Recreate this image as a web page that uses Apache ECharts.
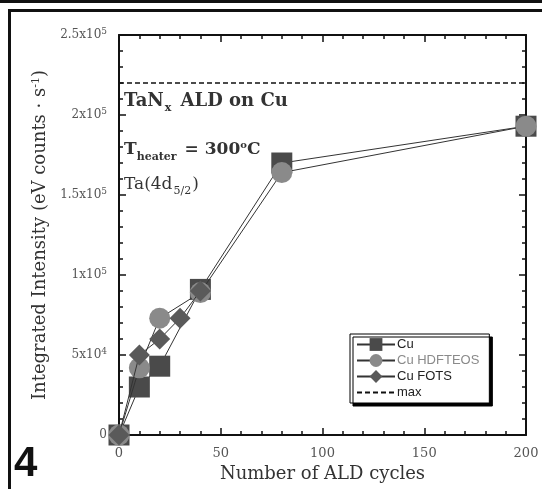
<!DOCTYPE html>
<html>
<head>
<meta charset="utf-8">
<script src="https://cdn.jsdelivr.net/npm/echarts@6/dist/echarts.min.js"></script>
<style>
html, body { margin: 0; padding: 0; background: #fff; }
#chart { width: 542px; height: 489px; }
</style>
</head>
<body>
<div id="chart"></div>
<script>
// ALD cycles vs Ta(4d5/2) integrated intensity
const cuCycles = [0, 10, 20, 40, 80, 200]
const cuValues = [0, 30000, 43000, 91000, 170000, 193000]

const hdfCycles = [0, 10, 20, 40, 80, 200]
const hdfValues = [0, 42000, 73000, 89000, 164000, 193000]

const fotsCycles = [0, 10, 20, 30, 40]
const fotsValues = [0, 50000, 60000, 73000, 90000]

const maxCycles = [0, 200]
const maxValue = 220000

const yTickLabels = {
    0: '0',
    50000: '5x10{sup|4}',
    100000: '1x10{sup|5}',
    150000: '1.5x10{sup|5}',
    200000: '2x10{sup|5}',
    250000: '2.5x10{sup|5}'
}

const serif = '"DejaVu Serif", "Liberation Serif", serif'
const sans = '"Liberation Sans", Arial, sans-serif'

const pairs = (xs, ys) => xs.map((x, i) => [x, ys[i]])

const chart = echarts.init(document.getElementById('chart'))

const tickStyle = { color: '#111', width: 1.5 }
const frameLine = { show: true, onZero: false, lineStyle: { color: '#111', width: 2 } }

chart.setOption({
    animation: false,
    backgroundColor: '#fff',
    grid: { left: 119, right: 16, top: 35, bottom: 54 },
    legend: {
        orient: 'vertical',
        left: 350,
        top: 334,
        itemWidth: 38,
        itemHeight: 16,
        itemGap: 3,
        padding: [4, 10, 4, 6],
        backgroundColor: '#fff',
        borderColor: '#000',
        borderWidth: 1,
        shadowColor: '#000',
        shadowBlur: 0,
        shadowOffsetX: 3,
        shadowOffsetY: 3,
        textStyle: { fontFamily: sans, fontSize: 13, color: '#222', padding: [0, 0, 0, -3] },
        data: [
            { name: 'Cu' },
            { name: 'Cu HDFTEOS', textStyle: { color: '#8a8a8a' } },
            { name: 'Cu FOTS' },
            { name: 'max' }
        ]
    },
    xAxis: [{
        type: 'value',
        min: 0,
        max: 200,
        interval: 50,
        name: 'Number of ALD cycles',
        nameLocation: 'middle',
        nameGap: 30,
        nameTextStyle: { fontFamily: serif, fontSize: 18, color: '#333' },
        axisLine: frameLine,
        axisTick: { inside: true, length: 7, lineStyle: tickStyle },
        minorTick: { show: true, splitNumber: 5, length: 4, lineStyle: tickStyle },
        splitLine: { show: false },
        axisLabel: { fontFamily: serif, fontSize: 13, color: '#555', margin: 12 }
    }, {
        type: 'value',
        position: 'top',
        min: 0,
        max: 200,
        interval: 50,
        axisLine: frameLine,
        axisTick: { inside: true, length: 7, lineStyle: tickStyle },
        minorTick: { show: true, splitNumber: 5, length: 4, lineStyle: tickStyle },
        splitLine: { show: false },
        axisLabel: { show: false }
    }],
    yAxis: [{
        type: 'value',
        min: 0,
        max: 250000,
        interval: 50000,
        name: 'Integrated Intensity (eV counts \u00b7 s{sup|-1})',
        nameLocation: 'middle',
        nameGap: 68,
        nameTextStyle: {
            fontFamily: serif,
            fontSize: 18,
            color: '#333',
            rich: { sup: { fontFamily: serif, fontSize: 11, color: '#333', verticalAlign: 'top', padding: [0, 0, 8, 0] } }
        },
        axisLine: frameLine,
        axisTick: { inside: true, length: 7, lineStyle: tickStyle },
        minorTick: { show: true, splitNumber: 5, length: 4, lineStyle: tickStyle },
        splitLine: { show: false },
        axisLabel: {
            fontFamily: serif,
            fontSize: 12,
            color: '#555',
            margin: 12,
            formatter: v => yTickLabels[v] || '',
            rich: { sup: { fontFamily: serif, fontSize: 9, color: '#555', verticalAlign: 'top', padding: [0, 0, 7, 0] } }
        }
    }, {
        type: 'value',
        position: 'right',
        min: 0,
        max: 250000,
        interval: 50000,
        axisLine: frameLine,
        axisTick: { inside: true, length: 7, lineStyle: tickStyle },
        minorTick: { show: true, splitNumber: 5, length: 4, lineStyle: tickStyle },
        splitLine: { show: false },
        axisLabel: { show: false }
    }],
    graphic: [
        { type: 'rect', shape: { x: 0, y: 0, width: 542, height: 3 }, style: { fill: '#111' } },
        { type: 'rect', shape: { x: 8, y: 9, width: 534, height: 3 }, style: { fill: '#111' } },
        { type: 'rect', shape: { x: 8, y: 9, width: 3, height: 480 }, style: { fill: '#111' } },
        {
            type: 'text', left: 14, top: 443,
            style: { text: '4', font: 'bold 42px ' + sans, fill: '#111' }
        },
        {
            type: 'text', left: 124, top: 92,
            style: {
                text: 'TaN{sub|x} ALD on Cu',
                font: 'bold 18px ' + serif,
                fill: '#333',
                rich: { sub: { font: 'bold 11px ' + serif, fill: '#333', padding: [14, 3, 0, 1] } }
            }
        },
        {
            type: 'text', left: 124, top: 140,
            style: {
                text: 'T{sub|heater} = 300{sup|o}C',
                font: 'bold 17px ' + serif,
                fill: '#333',
                rich: {
                    sub: { font: 'bold 11px ' + serif, fill: '#333', padding: [14, 2, 0, 0] },
                    sup: { font: 'bold 10px ' + serif, fill: '#333', padding: [0, 0, 10, 0] }
                }
            }
        },
        {
            type: 'text', left: 124, top: 176,
            style: {
                text: 'Ta(4d{sub|5/2})',
                font: '17px ' + serif,
                fill: '#333',
                rich: { sub: { font: '11px ' + serif, fill: '#333', padding: [14, 1, 0, 1] } }
            }
        }
    ],
    series: [{
        name: 'Cu',
        type: 'line',
        data: pairs(cuCycles, cuValues),
        symbol: 'rect',
        symbolSize: 21,
        itemStyle: { color: '#4a4a4a' },
        lineStyle: { color: '#333', width: 1 },
        z: 3
    }, {
        name: 'Cu HDFTEOS',
        type: 'line',
        data: pairs(hdfCycles, hdfValues),
        symbol: 'circle',
        symbolSize: 21,
        itemStyle: { color: '#8a8a8a' },
        lineStyle: { color: '#333', width: 1 },
        z: 4
    }, {
        name: 'Cu FOTS',
        type: 'line',
        data: pairs(fotsCycles, fotsValues),
        symbol: 'diamond',
        symbolSize: 21,
        itemStyle: { color: '#5a5a5a' },
        lineStyle: { color: '#333', width: 1 },
        z: 5
    }, {
        name: 'max',
        type: 'line',
        data: maxCycles.map(x => [x, maxValue]),
        symbol: 'rect',
        showSymbol: false,
        itemStyle: { color: 'rgba(0,0,0,0)' },
        lineStyle: { color: '#111', width: 1.5, type: [5, 3] },
        z: 2
    }]
})
</script>
</body>
</html>
